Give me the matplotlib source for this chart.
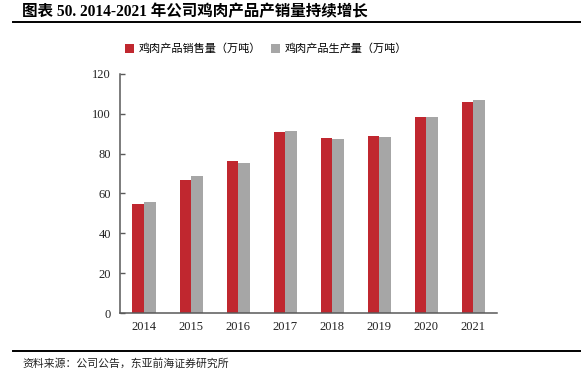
import matplotlib
matplotlib.use("Agg")
import matplotlib.pyplot as plt
from matplotlib.lines import Line2D
import numpy as np

# données
annees = ["2014", "2015", "2016", "2017", "2018", "2019", "2020", "2021"]
ventes = [54.5, 66.9, 76.5, 90.9, 87.6, 88.8, 98.2, 105.9]
production = [55.6, 68.7, 75.1, 91.6, 87.1, 88.4, 98.5, 106.8]
nom_ventes = "鸡肉产品销售量（万吨）"
nom_production = "鸡肉产品生产量（万吨）"
titre = "图表 50. 2014-2021 年公司鸡肉产品产销量持续增长"
source = "资料来源：公司公告，东亚前海证券研究所"

polices = ["Liberation Serif", "Noto Sans CJK SC"]
plt.rcParams["font.family"] = polices

rouge = "#C0272F"
gris = "#A6A6A6"
axe_col = "#595959"

fig = plt.figure(figsize=(5.81, 3.85), dpi=100)
ax = fig.add_axes([0.2074, 0.187, 0.6476, 0.621])

x = np.arange(len(annees))
largeur = 0.245
ax.bar(x - largeur / 2, ventes, largeur, color=rouge, label=nom_ventes)
ax.bar(x + largeur / 2, production, largeur, color=gris, label=nom_production)

ax.set_xlim(-0.5, len(annees) - 0.5)
ax.set_ylim(0, 120)
ax.set_yticks(np.arange(0, 121, 20))
ax.set_xticks(x)
ax.set_xticklabels(annees)

for cote in ["top", "right"]:
    ax.spines[cote].set_visible(False)
for cote in ["left", "bottom"]:
    ax.spines[cote].set_color(axe_col)
    ax.spines[cote].set_linewidth(1.1)

ax.tick_params(axis="y", direction="in", length=3.5, width=1.0, color=axe_col,
               labelsize=9, pad=7, labelcolor="#222222")
ax.tick_params(axis="x", length=0, labelsize=9, pad=6, labelcolor="#222222")

fig.legend(loc="center", bbox_to_anchor=(0.458, 0.873), ncol=2, frameon=False,
           fontsize=8, handlelength=0.8, handleheight=0.8, handletextpad=0.45,
           columnspacing=0.9, borderaxespad=0)

# titre et source
fig.text(0.038, 0.968, titre, fontsize=11.2, fontweight="bold", va="center", ha="left")
fig.add_artist(Line2D([0.023, 1.0], [0.9416, 0.9416], color="black", lw=1.4,
                      transform=fig.transFigure))
fig.add_artist(Line2D([0.023, 1.0], [0.089, 0.089], color="black", lw=1.4,
                      transform=fig.transFigure))
fig.text(0.038, 0.055, source, fontsize=7.8, va="center", ha="left", color="#222222")

fig.savefig("out.png", dpi=100)
